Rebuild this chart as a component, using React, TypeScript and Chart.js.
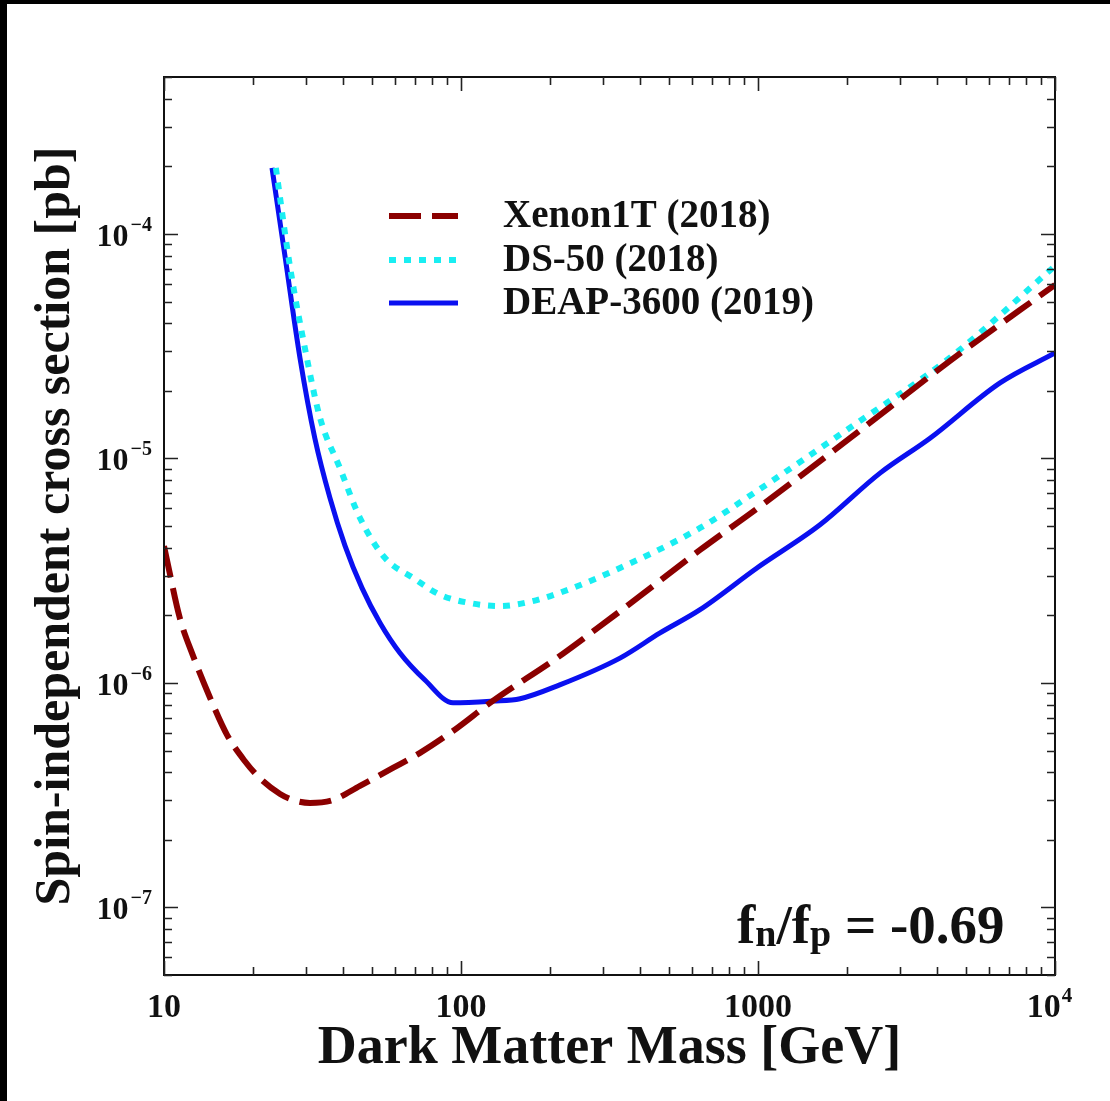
import React, { useEffect, useRef } from "react";
import { Chart, registerables } from "chart.js";

Chart.register(...registerables);

// ---- data (mass in GeV, cross section in pb) ----
const massXenon = [10, 10.2, 11.3, 12.5, 14.3, 16.3, 18.7, 21.0, 24.6, 27.2, 31.0, 37.1, 45.7, 59.0, 72.8, 94.0, 128, 210, 294, 401, 638, 1000, 2040, 4430, 10000];
const sigmaXenon = [4.07e-6, 3.6e-6, 1.95e-6, 1.33e-6, 8.57e-7, 5.87e-7, 4.49e-7, 3.77e-7, 3.2e-7, 3.01e-7, 2.92e-7, 3.01e-7, 3.48e-7, 4.18e-7, 4.88e-7, 6.11e-7, 8.32e-7, 1.29e-6, 1.79e-6, 2.44e-6, 3.91e-6, 6.02e-6, 1.23e-5, 2.72e-5, 5.93e-5];

const massDS50 = [23.8, 26.6, 29.8, 33.5, 39.1, 45.7, 55.5, 68.9, 85.0, 107, 135, 171, 215, 343, 638, 992, 2040, 4430, 10000];
const sigmaDS50 = [1.97e-4, 7.06e-5, 3.11e-5, 1.52e-5, 9.07e-6, 5.43e-6, 3.6e-6, 2.94e-6, 2.47e-6, 2.27e-6, 2.2e-6, 2.3e-6, 2.52e-6, 3.25e-6, 4.9e-6, 7.16e-6, 1.37e-5, 2.81e-5, 7.2e-5];

const massDEAP = [23.1, 25.6, 28.7, 32.2, 36.2, 40.7, 46.4, 53.4, 62.3, 75.6, 94.0, 128, 158, 215, 343, 468, 638, 992, 1617, 2575, 3794, 6530, 10000];
const sigmaDEAP = [1.97e-4, 7.82e-5, 2.8e-5, 1.23e-5, 6.67e-6, 4.08e-6, 2.65e-6, 1.85e-6, 1.36e-6, 1.03e-6, 8.15e-7, 8.3e-7, 8.5e-7, 9.8e-7, 1.29e-6, 1.67e-6, 2.12e-6, 3.25e-6, 5.06e-6, 8.6e-6, 1.23e-5, 2.17e-5, 2.95e-5];

const seriesLabels = ["Xenon1T (2018)", "DS-50 (2018)", "DEAP-3600 (2019)"];

const xTickValues = [10, 100, 1000, 10000];
const xTickBase = ["10", "100", "1000", "10"];
const xTickExp = ["", "", "", "4"];
const yTickValues = [1e-7, 1e-6, 1e-5, 1e-4];
const yTickBase = ["10", "10", "10", "10"];
const yTickExp = ["\u22127", "\u22126", "\u22125", "\u22124"];

const xTitle = "Dark Matter Mass [GeV]";
const yTitle = "Spin-independent cross section [pb]";

const W = 1110;
const H = 1101;
const SERIF = '"Liberation Serif", "Times New Roman", serif';

function pts(xs: number[], ys: number[]) {
  return xs.map((x, i) => ({ x, y: ys[i] }));
}

const decorPlugin = {
  id: "decor",
  beforeDraw(chart: any) {
    const ctx = chart.ctx;
    ctx.save();
    ctx.fillStyle = "#ffffff";
    ctx.fillRect(0, 0, chart.width, chart.height);
    ctx.restore();
  },
  afterDraw(chart: any) {
    const ctx: CanvasRenderingContext2D = chart.ctx;
    const { left, right, top, bottom } = chart.chartArea;
    const xs = chart.scales.x;
    const ys = chart.scales.y;
    ctx.save();

    // black frame bits
    ctx.fillStyle = "#000";
    ctx.fillRect(0, 0, chart.width, 4);
    ctx.fillRect(0, 0, 7, chart.height);

    // axis box
    ctx.strokeStyle = "#111";
    ctx.lineWidth = 2;
    ctx.strokeRect(left, top, right - left, bottom - top);

    // ticks
    ctx.lineWidth = 1.6;
    ctx.strokeStyle = "#222";
    const xMin = xs.min, xMax = xs.max, yMin = ys.min, yMax = ys.max;
    for (let d = 10; d <= xMax; d *= 10) {
      for (let k = 1; k <= 9; k++) {
        const v = d * k;
        if (v < xMin - 1e-9 || v > xMax * 1.0001) continue;
        const px = Math.round(xs.getPixelForValue(v)) + 0.5;
        const len = k === 1 ? 14 : 8;
        ctx.beginPath();
        ctx.moveTo(px, bottom);
        ctx.lineTo(px, bottom - len);
        ctx.moveTo(px, top);
        ctx.lineTo(px, top + len);
        ctx.stroke();
      }
    }
    for (let e = -9; e <= -3; e++) {
      const d = Math.pow(10, e);
      for (let k = 1; k <= 9; k++) {
        const v = d * k;
        if (v < yMin * 0.9999 || v > yMax * 1.0001) continue;
        const py = Math.round(ys.getPixelForValue(v)) + 0.5;
        const len = k === 1 ? 14 : 8;
        ctx.beginPath();
        ctx.moveTo(left, py);
        ctx.lineTo(left + len, py);
        ctx.moveTo(right, py);
        ctx.lineTo(right - len, py);
        ctx.stroke();
      }
    }

    // x tick labels
    ctx.fillStyle = "#111";
    ctx.textBaseline = "alphabetic";
    const baseFontX = `bold 34px ${SERIF}`;
    const expFontX = `bold 21px ${SERIF}`;
    xTickValues.forEach((v, i) => {
      const px = xs.getPixelForValue(v);
      ctx.font = baseFontX;
      const wb = ctx.measureText(xTickBase[i]).width;
      ctx.font = expFontX;
      const we = xTickExp[i] ? ctx.measureText(xTickExp[i]).width : 0;
      const start = px - (wb + we) / 2 - (we ? 6 : 0);
      ctx.font = baseFontX;
      ctx.textAlign = "left";
      ctx.fillText(xTickBase[i], start, 1017);
      if (we) {
        ctx.font = expFontX;
        ctx.fillText(xTickExp[i], start + wb + 1, 1002);
      }
    });

    // y tick labels
    const baseFontY = `bold 32px ${SERIF}`;
    const expFontY = `bold 20px ${SERIF}`;
    yTickValues.forEach((v, i) => {
      const py = ys.getPixelForValue(v);
      ctx.font = expFontY;
      const we = ctx.measureText(yTickExp[i]).width;
      ctx.font = baseFontY;
      const wb = ctx.measureText(yTickBase[i]).width;
      const endX = left - 12;
      ctx.textAlign = "left";
      ctx.fillText(yTickBase[i], endX - we - wb - 2, py + 12);
      ctx.font = expFontY;
      ctx.fillText(yTickExp[i], endX - we, py - 3);
    });

    // axis titles
    ctx.font = `bold 54px ${SERIF}`;
    ctx.textAlign = "center";
    ctx.fillText(xTitle, (left + right) / 2, 1063);
    ctx.save();
    ctx.translate(56, (top + bottom) / 2);
    ctx.rotate(-Math.PI / 2);
    ctx.font = `bold 50px ${SERIF}`;
    ctx.textBaseline = "middle";
    ctx.fillText(yTitle, 0, 0);
    ctx.restore();

    // legend
    const rows = [216, 260, 303];
    chart.data.datasets.forEach((ds: any, i: number) => {
      const yy = rows[i];
      ctx.save();
      ctx.strokeStyle = ds.borderColor;
      ctx.lineWidth = ds.borderWidth;
      ctx.setLineDash(ds.borderDash || []);
      ctx.lineCap = "butt";
      ctx.beginPath();
      ctx.moveTo(389, yy);
      ctx.lineTo(458, yy);
      ctx.stroke();
      ctx.restore();
      ctx.font = `bold 39px ${SERIF}`;
      ctx.textAlign = "left";
      ctx.textBaseline = "middle";
      ctx.fillStyle = "#111";
      ctx.fillText(ds.label, 503, yy + 1);
    });

    // annotation f_n/f_p = -0.69
    ctx.textBaseline = "alphabetic";
    ctx.textAlign = "left";
    const big = `bold 55px ${SERIF}`;
    const sub = `bold 38px ${SERIF}`;
    const parts: [string, string, number][] = [
      ["f", big, 0],
      ["n", sub, 3],
      ["/", big, 0],
      ["f", big, 0],
      ["p", sub, 3],
      [" = -0.69", big, 0],
    ];
    let cx = 737;
    const base = 943;
    parts.forEach(([t, f, dy]) => {
      ctx.font = f;
      ctx.fillText(t, cx, base + dy);
      cx += ctx.measureText(t).width;
    });

    ctx.restore();
  },
};

export default function App() {
  const ref = useRef<HTMLCanvasElement | null>(null);
  useEffect(() => {
    if (!ref.current) return;
    const chart = new Chart(ref.current, {
      type: "line",
      data: {
        datasets: [
          {
            label: seriesLabels[0],
            data: pts(massXenon, sigmaXenon),
            borderColor: "#8b0000",
            borderWidth: 6,
            borderDash: [32, 11],
            pointRadius: 0,
            fill: false,
            cubicInterpolationMode: "monotone",
          },
          {
            label: seriesLabels[1],
            data: pts(massDS50, sigmaDS50),
            borderColor: "#19eef2",
            borderWidth: 6,
            borderDash: [7, 8],
            pointRadius: 0,
            fill: false,
            cubicInterpolationMode: "monotone",
          },
          {
            label: seriesLabels[2],
            data: pts(massDEAP, sigmaDEAP),
            borderColor: "#0a10f0",
            borderWidth: 5,
            pointRadius: 0,
            fill: false,
            cubicInterpolationMode: "monotone",
          },
        ],
      },
      options: {
        responsive: false,
        animation: false,
        layout: { padding: { left: 164, right: 55, top: 77, bottom: 126 } },
        plugins: { legend: { display: false }, tooltip: { enabled: false } },
        scales: {
          x: { type: "logarithmic", min: 10, max: 10000, display: false },
          y: { type: "logarithmic", min: 5e-8, max: 5e-4, display: false },
        },
      },
      plugins: [decorPlugin],
    } as any);
    return () => chart.destroy();
  }, []);
  return (
    <div style={{ position: "absolute", left: 0, top: 0, width: W, height: H }}>
      <canvas ref={ref} width={W} height={H} style={{ width: W, height: H, display: "block" }} />
    </div>
  );
}
